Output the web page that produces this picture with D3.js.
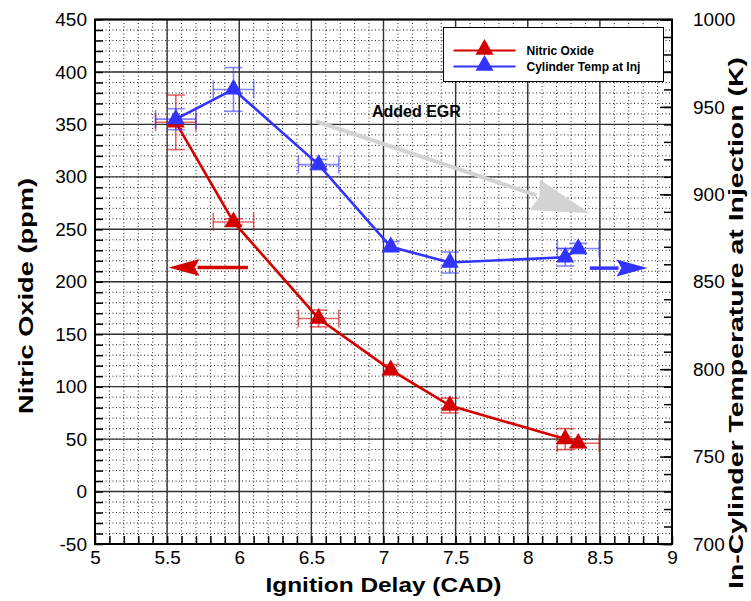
<!DOCTYPE html>
<html lang="en">
<head>
<meta charset="UTF-8">
<script src="https://cdn.jsdelivr.net/npm/d3@7"></script>
<title>Nitric Oxide vs Ignition Delay</title>
<style>
  body { margin: 0; background: #fff; }
  svg text { font-family: "Liberation Sans", Arial, sans-serif; }
</style>
</head>
<body>
<div id="chart"></div>
<script>
// ignition delay (CAD) for each run
var delay     = [5.56, 5.96, 6.55, 7.05, 7.46, 8.26, 8.35];
var delayErr  = [0.14, 0.14, 0.14, 0, 0, 0, 0.145];
// nitric oxide (ppm), left axis
var noPpm     = [352, 257, 165, 116, 82, 50, 46];
var noErr     = [26, 3, 8, 5, 7, 10, 4];
// cylinder temperature at injection (K), right axis
var tempK     = [943, 960, 917, 870, 861, 864, 869];
var tempErr   = [6, 12.5, 3, 3, 6, 5, 3];

var xTicks  = [5, 5.5, 6, 6.5, 7, 7.5, 8, 8.5, 9];
var yLTicks = [-50, 0, 50, 100, 150, 200, 250, 300, 350, 400, 450];
var yRTicks = [700, 750, 800, 850, 900, 950, 1000];

var W = 751, H = 601;
var m = {left: 95, right: 79, top: 19.5, bottom: 57};

var svg = d3.select("#chart").append("svg")
    .attr("width", W).attr("height", H);

var x  = d3.scaleLinear().domain([5, 9]).range([m.left, W - m.right]);
var yL = d3.scaleLinear().domain([-50, 450]).range([H - m.bottom, m.top]);
var yR = d3.scaleLinear().domain([700, 1000]).range([H - m.bottom, m.top]);

var x0 = x.range()[0], x1 = x.range()[1], yb = yL.range()[0], yt = yL.range()[1];
var plain = function(d) { return String(d); };

// minor dotted grid
var xMinor = d3.range(50, 91).map(function(d){ return d / 10; });
var yMinor = d3.range(-50, 451, 10);
var grid = svg.append("g");
grid.selectAll(".vx").data(xMinor).enter().append("line")
    .attr("x1", d => x(d)).attr("x2", d => x(d)).attr("y1", yt).attr("y2", yb)
    .attr("stroke", "#222").attr("stroke-width", 1).attr("stroke-dasharray", "1,2.5");
grid.selectAll(".hy").data(yMinor).enter().append("line")
    .attr("x1", x0).attr("x2", x1).attr("y1", d => yL(d)).attr("y2", d => yL(d))
    .attr("stroke", "#222").attr("stroke-width", 1).attr("stroke-dasharray", "1,2.5");

// major grid
grid.selectAll(".mx").data(xTicks).enter().append("line")
    .attr("x1", d => x(d)).attr("x2", d => x(d)).attr("y1", yt).attr("y2", yb)
    .attr("stroke", "#333").attr("stroke-width", 1.4);
grid.selectAll(".my").data(yLTicks).enter().append("line")
    .attr("x1", x0).attr("x2", x1).attr("y1", d => yL(d)).attr("y2", d => yL(d))
    .attr("stroke", "#333").attr("stroke-width", 1.4);

// axes
function styleAxis(g) {
    g.select(".domain").remove();
    g.selectAll("text").attr("font-size", 19).attr("fill", "#000");
    g.selectAll("line").attr("stroke", "#000").attr("stroke-width", 1.5);
}
svg.append("g").attr("transform", "translate(" + x0 + ",0)")
    .call(d3.axisLeft(yL).tickValues(yLTicks).tickSize(0).tickPadding(8).tickFormat(plain))
    .call(styleAxis);
svg.append("g").attr("transform", "translate(" + x0 + ",0)")
    .call(d3.axisLeft(yL).tickValues(yMinor).tickSize(-8).tickFormat(""))
    .call(styleAxis);
svg.append("g").attr("transform", "translate(0," + yb + ")")
    .call(d3.axisBottom(x).tickValues(xTicks).tickSize(0).tickPadding(7).tickFormat(plain))
    .call(styleAxis);
svg.append("g").attr("transform", "translate(0," + yb + ")")
    .call(d3.axisBottom(x).tickValues(xMinor).tickSize(-8).tickFormat(""))
    .call(styleAxis);
svg.append("g").attr("transform", "translate(" + x1 + ",0)")
    .call(d3.axisRight(yR).tickValues(yRTicks).tickSize(-12).tickPadding(9 + 12).tickFormat(plain))
    .call(styleAxis);
svg.append("g").attr("transform", "translate(" + x1 + ",0)")
    .call(d3.axisRight(yR).tickValues(d3.range(700, 1001, 10)).tickSize(-8).tickFormat(""))
    .call(styleAxis);

// axis titles
svg.append("text").attr("x", (x0 + x1) / 2).attr("y", 592)
    .attr("text-anchor", "middle").attr("font-size", 20).attr("font-weight", "bold")
    .attr("textLength", 236).attr("lengthAdjust", "spacingAndGlyphs")
    .text("Ignition Delay (CAD)");
svg.append("text").attr("transform", "translate(33,296) rotate(-90)")
    .attr("text-anchor", "middle").attr("font-size", 21).attr("font-weight", "bold")
    .attr("textLength", 236).attr("lengthAdjust", "spacingAndGlyphs")
    .text("Nitric Oxide (ppm)");
svg.append("text").attr("transform", "translate(743,323) rotate(-90)")
    .attr("text-anchor", "middle").attr("font-size", 21).attr("font-weight", "bold")
    .attr("textLength", 532).attr("lengthAdjust", "spacingAndGlyphs")
    .text("In-Cylinder Temperature at Injection (K)");

// series
var red = "#d40000", blue = "#3333ff";
var series = [
    {name: "Nitric Oxide", vals: noPpm, err: noErr, y: yL, color: red, ecolor: "rgba(212,0,0,0.6)"},
    {name: "Cylinder Temp at Inj", vals: tempK, err: tempErr, y: yR, color: blue, ecolor: "rgba(51,51,255,0.6)"}
];
var tri = d3.symbol().type(d3.symbolTriangle).size(140);
var cap = 9;

series.forEach(function(s) {
    var pts = delay.map(function(d, i) { return {x: d, ex: delayErr[i], v: s.vals[i], ev: s.err[i]}; });
    var g = svg.append("g");
    var eb = g.append("g").attr("stroke", s.ecolor).attr("stroke-width", 1.6).attr("fill", "none");
    pts.forEach(function(p) {
        var px = x(p.x), py = s.y(p.v);
        if (p.ev > 0) {
            var ya = s.y(p.v - p.ev), yb2 = s.y(p.v + p.ev);
            eb.append("line").attr("x1", px).attr("x2", px).attr("y1", ya).attr("y2", yb2);
            eb.append("line").attr("x1", px - cap).attr("x2", px + cap).attr("y1", ya).attr("y2", ya);
            eb.append("line").attr("x1", px - cap).attr("x2", px + cap).attr("y1", yb2).attr("y2", yb2);
        }
        if (p.ex > 0) {
            var xa = x(p.x - p.ex), xb = x(p.x + p.ex);
            eb.append("line").attr("x1", xa).attr("x2", xb).attr("y1", py).attr("y2", py);
            eb.append("line").attr("x1", xa).attr("x2", xa).attr("y1", py - cap).attr("y2", py + cap);
            eb.append("line").attr("x1", xb).attr("x2", xb).attr("y1", py - cap).attr("y2", py + cap);
        }
    });
    g.append("path").datum(pts)
        .attr("d", d3.line().x(d => x(d.x)).y(d => s.y(d.v)))
        .attr("fill", "none").attr("stroke", s.color).attr("stroke-width", 2.6);
    g.selectAll(".pt").data(pts).enter().append("path")
        .attr("transform", d => "translate(" + x(d.x) + "," + s.y(d.v) + ")")
        .attr("d", tri).attr("fill", s.color);
});

// annotation arrows (data coordinates)
var arrowRed  = {from: [6.06, 213.5], to: [5.51, 213.5], y: yL, color: red, w: 3.5, hl: 31, hw: 17};
var arrowBlue = {from: [8.43, 857.8], to: [8.83, 857.8], y: yR, color: blue, w: 3.5, hl: 31, hw: 17};
var arrowEgr  = {from: [6.53, 353], to: [8.43, 265.3], y: yL, color: "#d3d3d3", w: 4, hl: 58, hw: 32};

[arrowRed, arrowBlue, arrowEgr].forEach(function(a) {
    var sx = x(a.from[0]), sy = a.y(a.from[1]), ex = x(a.to[0]), ey = a.y(a.to[1]);
    var dx = ex - sx, dy = ey - sy, len = Math.sqrt(dx * dx + dy * dy);
    var ux = dx / len, uy = dy / len;
    var bx = ex - ux * a.hl, by = ey - uy * a.hl;
    svg.append("line").attr("x1", sx).attr("y1", sy).attr("x2", bx + ux * 2).attr("y2", by + uy * 2)
        .attr("stroke", a.color).attr("stroke-width", a.w);
    svg.append("polygon")
        .attr("points", [[ex, ey], [bx - uy * a.hw / 2, by + ux * a.hw / 2], [bx + ux * 5, by + uy * 5], [bx + uy * a.hw / 2, by - ux * a.hw / 2]].join(" "))
        .attr("fill", a.color);
});

svg.append("text").attr("x", x(6.92)).attr("y", yL(357))
    .attr("font-size", 16).attr("font-weight", "bold").text("Added EGR");

// legend
var lg = svg.append("g").attr("transform", "translate(443.5,27.5)");
lg.append("rect").attr("width", 220).attr("height", 54)
    .attr("fill", "#fff").attr("stroke", "#000").attr("stroke-width", 1);
series.forEach(function(s, i) {
    var ly = 23 + i * 16;
    lg.append("line").attr("x1", 10).attr("x2", 72).attr("y1", ly).attr("y2", ly)
        .attr("stroke", s.color).attr("stroke-width", 2);
    lg.append("path").attr("transform", "translate(41," + (ly - 1) + ")")
        .attr("d", tri).attr("fill", s.color);
    lg.append("text").attr("x", 83).attr("y", ly + 4.5)
        .attr("font-size", 12).attr("font-weight", "bold").text(s.name);
});

// frame
svg.append("rect").attr("x", x0).attr("y", yt).attr("width", x1 - x0).attr("height", yb - yt)
    .attr("fill", "none").attr("stroke", "#000").attr("stroke-width", 2);
</script>
</body>
</html>
